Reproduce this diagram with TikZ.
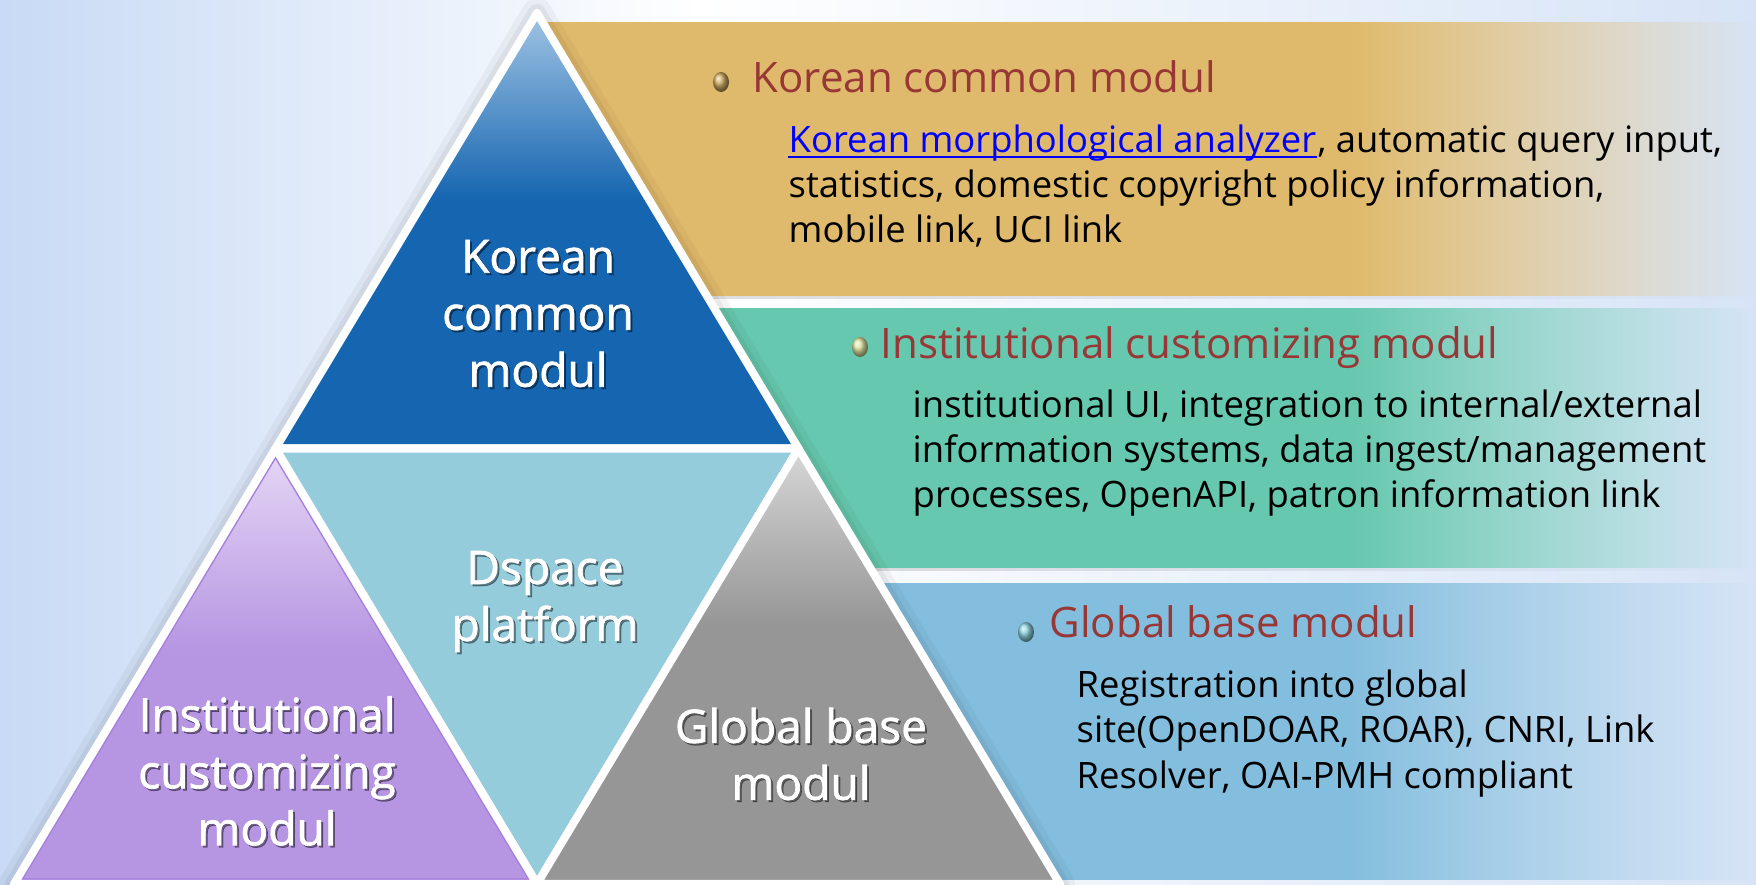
\documentclass[tikz,border=0pt]{standalone}
\usepackage{fontspec}
\setmainfont{Open Sans}
\newfontfamily\trifont[FakeBold=1.5]{Open Sans}
\usepackage{tikz}
\usetikzlibrary{calc,fadings,shapes.geometric}
\definecolor{bgblue}{RGB}{200,218,245}
\definecolor{bgright}{RGB}{215,228,247}
\definecolor{kcblue}{RGB}{21,101,176}
\definecolor{kclight}{RGB}{160,196,228}
\definecolor{dsblue}{RGB}{148,204,220}
\definecolor{icpurple}{RGB}{182,150,226}
\definecolor{iclight}{RGB}{230,215,245}
\definecolor{icedge}{RGB}{165,128,222}
\definecolor{gbgray}{RGB}{150,150,150}
\definecolor{gblight}{RGB}{215,215,215}
\definecolor{goldpanel}{RGB}{224,186,108}
\definecolor{tealpanel}{RGB}{102,200,174}
\definecolor{bluepanel}{RGB}{132,190,222}
\definecolor{headred}{RGB}{152,56,54}
\definecolor{linkblue}{RGB}{0,0,255}
\definecolor{kcball}{RGB}{205,170,95}
\definecolor{icball}{RGB}{222,228,160}
\definecolor{gbball}{RGB}{140,210,222}
\newcommand{\headfont}{\fontsize{11.95pt}{14pt}\selectfont}
\newcommand{\bodyfont}{\fontsize{10.35pt}{12.8pt}\selectfont}
\newcommand{\trisize}{\fontsize{13.1pt}{16.2pt}\selectfont}
\tikzset{
  tri/.style={draw=white, line width=0.08cm, line join=round},
  head/.style={font=\headfont, text=headred, anchor=base west, inner sep=0pt},
  body/.style={font=\bodyfont, anchor=base west, inner sep=0pt},
  trilabel/.style={font=\trifont\trisize, text=white, align=center, inner sep=0pt},
  trishadow/.style={trilabel, text=black, opacity=0.4},
  bullet/.style={ellipse, minimum width=0.16cm, minimum height=0.2cm, inner sep=0pt, shading=ball}
}
% white label with a dark shadow
\newcommand{\trilabel}[3]{%
  \node[trishadow] (#1-s) at ($(#2)+(2,2)$) {#3};
  \node[trilabel] (#1) at (#2) {#3};
}

\begin{document}
\begin{tikzpicture}[x=0.01cm,y=-0.01cm]
\useasboundingbox (0,0) rectangle (1756,885);
\clip (0,0) rectangle (1756,885);
% background
\shade[left color=bgblue, right color=white] (0,0) rectangle (700,885);
\shade[left color=white, right color=bgright] (700,0) rectangle (1756,885);

% panels
\fill[goldpanel] (537,22) rectangle (1350,296);
\fill[goldpanel, path fading=east] (1350,22) rectangle (1756,296);
\fill[black, opacity=0.15, path fading=east] (537,296) rectangle (1756,299);
\fill[tealpanel] (700,308) rectangle (1350,568);
\fill[tealpanel, path fading=east] (1350,308) rectangle (1756,568);
\fill[black, opacity=0.15, path fading=east] (700,568) rectangle (1756,571);
\fill[bluepanel] (800,583) rectangle (1350,880);
\fill[bluepanel, path fading=east] (1350,583) rectangle (1756,880);

% pyramid corners
\coordinate (apex) at (537,13);
\coordinate (bl) at (14,884);
\coordinate (br) at (1060,884);
\coordinate (ml) at ($(apex)!0.5!(bl)$);
\coordinate (mr) at ($(apex)!0.5!(br)$);
\coordinate (mb) at ($(bl)!0.5!(br)$);

% soft shadow round the pyramid
\draw[black, opacity=0.04, line width=0.3cm, line join=round] (apex) -- (bl) -- (br) -- cycle;
\draw[black, opacity=0.05, line width=0.18cm, line join=round] (apex) -- (bl) -- (br) -- cycle;

% Korean common modul
\begin{scope}
\clip (apex) -- (ml) -- (mr) -- cycle;
\fill[kcblue] (0,0) rectangle (1756,885);
\shade[top color=kclight, bottom color=kcblue] (200,13) rectangle (880,200);
\end{scope}
\draw[tri] (apex) -- (ml) -- (mr) -- cycle;

% Dspace platform
\fill[dsblue] (ml) -- (mr) -- (mb) -- cycle;
\draw[tri] (ml) -- (mr) -- (mb) -- cycle;

% Institutional customizing modul
\begin{scope}
\clip (ml) -- (bl) -- (mb) -- cycle;
\fill[icpurple] (0,0) rectangle (1756,885);
\shade[top color=iclight, bottom color=icpurple] (0,448) rectangle (600,650);
\draw[icedge, line width=0.11cm, line join=round] (ml) -- (bl) -- (mb) -- cycle;
\end{scope}
\draw[tri] (ml) -- (bl) -- (mb) -- cycle;

% Global base modul
\begin{scope}
\clip (mr) -- (mb) -- (br) -- cycle;
\fill[gbgray] (0,0) rectangle (1756,885);
\shade[top color=gblight, bottom color=gbgray] (500,448) rectangle (1100,625);
\end{scope}
\draw[tri] (mr) -- (mb) -- (br) -- cycle;

% labels in the pyramid
\trilabel{kclabel}{538,313.5}{Korean\\common\\modul}
\trilabel{dslabel}{545,601.5}{Dspace\\platform}
\trilabel{iclabel}{267,771}{Institutional\\customizing\\modul}
\trilabel{gblabel}{801,754}{Global base\\modul}

% Korean common modul text
\node[bullet, ball color=kcball] (kcbul) at (721,82) {};
\node[head] (kchead) at (752,93) {Korean common modul};
\node[body, text=linkblue] (kclink) at (788,153) {Korean morphological analyzer};
\node[body] (kc1) at (kclink.base east) {, automatic query input,};
\node[body] (kc2) at (788,198) {statistics, domestic copyright policy information,};
\node[body] (kc3) at (788,243) {mobile link, UCI link};
\draw[linkblue, line width=0.02cm] ($(kclink.base west)+(0,4)$) -- ($(kclink.base east)+(0,4)$);

% Institutional customizing modul text
\node[bullet, ball color=icball] (icbul) at (860,347) {};
\node[head] (ichead) at (880,359) {Institutional customizing modul};
\node[body] (ic1) at (912,418) {institutional UI, integration to internal/external};
\node[body] (ic2) at (912,463) {information systems, data ingest/management};
\node[body] (ic3) at (912,508) {processes, OpenAPI, patron information link};

% Global base modul text
\node[bullet, ball color=gbball] (gbbul) at (1026,632) {};
\node[head] (gbhead) at (1049,638) {Global base modul};
\node[body] (gb1) at (1076,698) {Registration into global};
\node[body] (gb2) at (1076,743) {site(OpenDOAR, ROAR), CNRI, Link};
\node[body] (gb3) at (1076,788) {Resolver, OAI-PMH compliant};
\end{tikzpicture}
\end{document}
